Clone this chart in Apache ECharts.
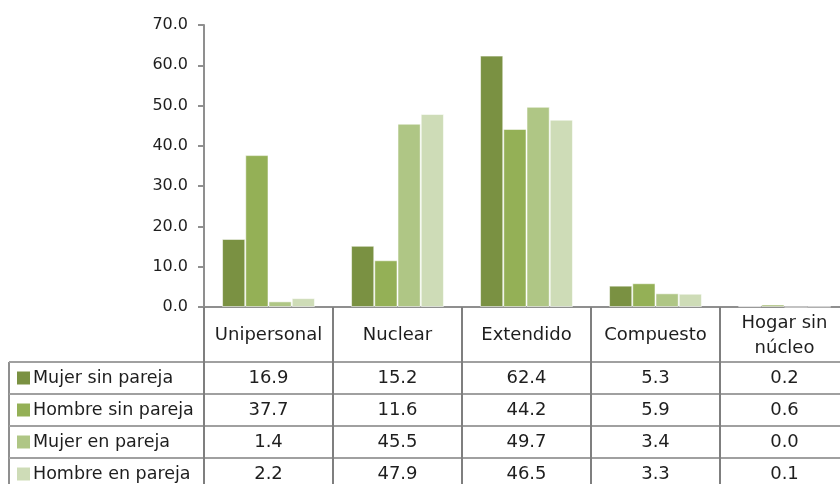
<!DOCTYPE html>
<html>
<head>
<meta charset="utf-8">
<script src="https://cdn.jsdelivr.net/npm/echarts@6/dist/echarts.min.js"></script>
<style>
  html, body { margin: 0; padding: 0; background: #fff; }
  #chart { width: 840px; height: 484px; }
</style>
</head>
<body>
<div id="chart"></div>
<script>
// Tipos de hogar
const categories = ['Unipersonal', 'Nuclear', 'Extendido', 'Compuesto', 'Hogar sin\nnúcleo'];

// Porcentajes por grupo
const seriesNames = ['Mujer sin pareja', 'Hombre sin pareja', 'Mujer en pareja', 'Hombre en pareja'];
const mujerSinPareja  = [16.9, 15.2, 62.4, 5.3, 0.2];
const hombreSinPareja = [37.7, 11.6, 44.2, 5.9, 0.6];
const mujerEnPareja   = [1.4, 45.5, 49.7, 3.4, 0.0];
const hombreEnPareja  = [2.2, 47.9, 46.5, 3.3, 0.1];

// Eje vertical
const yTicks = [0, 10, 20, 30, 40, 50, 60, 70];

const seriesValues = [mujerSinPareja, hombreSinPareja, mujerEnPareja, hombreEnPareja];
const colors = ['#7A9142', '#94B056', '#AFC685', '#CEDCB7'];

const FONT = '"DejaVu Sans", sans-serif';
const TEXT = '#1e1e1e';
const LINE = '#8f8f8f';

// Layout of the plot area and data table (the last column runs past the right edge)
const G = { left: 204, top: 25, width: 645, height: 282 };
const tableLeft = 9;
const headerBottom = 362;
const rowH = 32;
const tableBottom = 500;

const chart = echarts.init(document.getElementById('chart'), null, { renderer: 'canvas' });

const colW = G.width / categories.length;
const axisY = G.top + G.height;
const tableRight = G.left + G.width;

const graphics = [];

// left border of legend column
graphics.push({
  type: 'line', silent: true,
  shape: { x1: tableLeft, y1: headerBottom, x2: tableLeft, y2: tableBottom },
  style: { stroke: LINE, lineWidth: 2 }
});

// horizontal row lines
for (let r = 0; r <= seriesNames.length; r++) {
  const y = headerBottom + r * rowH;
  graphics.push({
    type: 'line', silent: true,
    shape: { x1: tableLeft, y1: y, x2: tableRight, y2: y },
    style: { stroke: '#a0a0a0', lineWidth: 2 }
  });
}

// header labels
categories.forEach((c, i) => {
  graphics.push({
    type: 'text', silent: true,
    x: G.left + colW * (i + 0.5),
    y: (axisY + headerBottom) / 2 + 1,
    style: {
      text: c, fill: TEXT, font: '18px ' + FONT,
      align: 'center', verticalAlign: 'middle', lineHeight: 25
    }
  });
});

// legend cells and values
seriesNames.forEach((name, s) => {
  const cy = headerBottom + rowH * (s + 0.5);
  graphics.push({
    type: 'rect', silent: true,
    shape: { x: 17, y: cy - 6.5, width: 13, height: 13 },
    style: { fill: colors[s] }
  });
  graphics.push({
    type: 'text', silent: true,
    x: 33, y: cy,
    style: { text: name, fill: TEXT, font: '17.5px ' + FONT, align: 'left', verticalAlign: 'middle' }
  });
  seriesValues[s].forEach((v, i) => {
    graphics.push({
      type: 'text', silent: true,
      x: G.left + colW * (i + 0.5), y: cy,
      style: { text: v.toFixed(1), fill: TEXT, font: '18px ' + FONT, align: 'center', verticalAlign: 'middle' }
    });
  });
});

chart.setOption({
  animation: false,
  backgroundColor: '#fff',
  grid: {
    left: G.left, top: G.top, width: G.width, height: G.height,
    containLabel: false, outerBoundsMode: 'none'
  },
  xAxis: {
    type: 'category',
    data: categories,
    boundaryGap: true,
    axisLine: { show: true, lineStyle: { color: LINE, width: 2 } },
    axisTick: { show: true, alignWithLabel: false, length: tableBottom - axisY, lineStyle: { color: '#7f7f7f', width: 2 } },
    axisLabel: { show: false },
    splitLine: { show: false }
  },
  yAxis: {
    type: 'value',
    min: yTicks[0],
    max: yTicks[yTicks.length - 1],
    interval: 10,
    axisLine: { show: true, lineStyle: { color: LINE, width: 2 } },
    axisTick: { show: true, length: 6, lineStyle: { color: LINE, width: 2 } },
    axisLabel: {
      margin: 16, color: TEXT, fontFamily: FONT, fontSize: 16,
      formatter: v => v.toFixed(1)
    },
    splitLine: { show: false }
  },
  series: seriesNames.map((name, s) => ({
    name: name,
    type: 'bar',
    data: seriesValues[s],
    barGap: '0%',
    barCategoryGap: '28%',
    itemStyle: { color: colors[s], borderColor: 'rgba(255,255,255,0.55)', borderWidth: 1 }
  })),
  graphic: graphics
});
</script>
</body>
</html>
